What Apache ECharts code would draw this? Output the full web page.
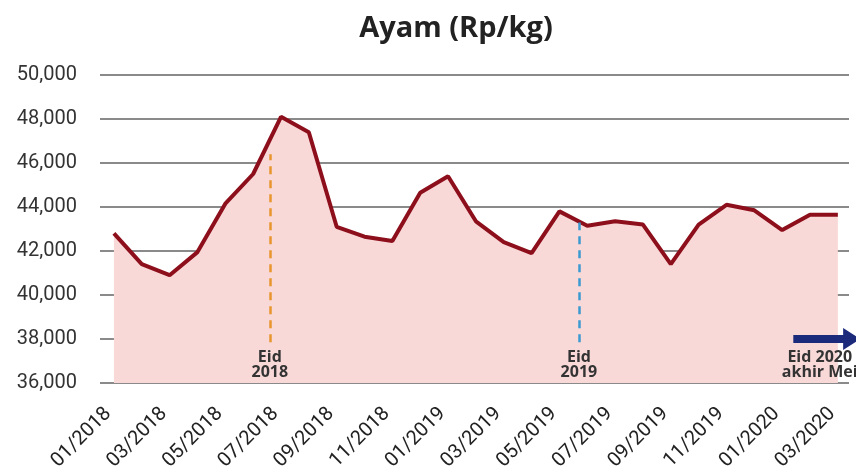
<!DOCTYPE html>
<html>
<head>
<meta charset="utf-8">
<script src="https://cdn.jsdelivr.net/npm/echarts@6/dist/echarts.min.js"></script>
<style>
  html, body { margin: 0; padding: 0; background: #fff; }
  #chart { width: 856px; height: 468px; }
</style>
</head>
<body>
<div id="chart"></div>
<script>
// ---- data ----
var months = ['01/2018','02/2018','03/2018','04/2018','05/2018','06/2018','07/2018','08/2018','09/2018','10/2018','11/2018','12/2018',
              '01/2019','02/2019','03/2019','04/2019','05/2019','06/2019','07/2019','08/2019','09/2019','10/2019','11/2019','12/2019',
              '01/2020','02/2020','03/2020'];
var prices = [42800, 41400, 40900, 41950, 44150, 45500, 48100, 47400, 43100, 42650, 42450, 44650,
              45400, 43350, 42400, 41900, 43800, 43150, 43350, 43200, 41400, 43200, 44100, 43850,
              42950, 43650, 43650];
var labelIdx = [0, 2, 4, 6, 8, 10, 12, 14, 16, 18, 20, 22, 24, 26];
var yTicks = [36000, 50000, 2000]; // min, max, interval
var eidMarks = [
  { name: 'Eid\n2018', x: 5.6, top: 46400, color: '#e8952e' },
  { name: 'Eid\n2019', x: 16.7, top: 43300, color: '#3b9ad0' }
];
var eid2020 = { name: 'Eid 2020\nakhir Mei', x: 25.35, arrowFrom: 24.4, arrowTo: 26.8, arrowY: 38000 };
var markerBottom = 37850;
var labelY = 36800;

var seriesData = prices.map(function (v, i) { return [i, v]; });

var chart = echarts.init(document.getElementById('chart'));
var labelFont = 'Roboto, "DejaVu Sans", sans-serif';

var markLines = eidMarks.map(function (m) {
  return [
    { coord: [m.x, markerBottom], lineStyle: { color: m.color, type: [8, 6], width: 2.5 } },
    { coord: [m.x, m.top] }
  ];
});
var markPoints = eidMarks.map(function (m) {
  return { coord: [m.x, labelY], value: m.name };
}).concat([{ coord: [eid2020.x, labelY], value: eid2020.name }]);

chart.setOption({
  animation: false,
  title: {
    text: 'Ayam (Rp/kg)',
    left: 451, top: 9, textAlign: 'center',
    textStyle: { fontFamily: '"Open Sans", sans-serif', fontWeight: 'bold', fontSize: 29, color: '#222' }
  },
  grid: { left: 100, right: 7, top: 75, bottom: 85, containLabel: false, outerBoundsMode: 'none' },
  xAxis: {
    type: 'value', min: -0.5, max: months.length - 1 + 0.4,
    axisLine: { show: false }, axisTick: { show: false }, splitLine: { show: false },
    axisLabel: {
      customValues: labelIdx,
      rotate: 45, fontSize: 20, color: '#222', margin: 22, padding: [0, 8, 0, 0], fontFamily: labelFont,
      formatter: function (v) { return months[Math.round(v)] || ''; }
    }
  },
  yAxis: {
    type: 'value', min: yTicks[0], max: yTicks[1], interval: yTicks[2],
    axisLine: { show: false }, axisTick: { show: false },
    splitLine: { lineStyle: { color: '#8a8a8a', width: 2 } },
    axisLabel: {
      fontSize: 20, color: '#333', margin: 23, fontFamily: labelFont,
      formatter: function (v) { return v.toLocaleString('en-US'); }
    }
  },
  series: [{
    type: 'line',
    data: seriesData,
    symbol: 'none',
    lineStyle: { color: '#8e0f1c', width: 4 },
    areaStyle: { color: '#f9d8d8', opacity: 1 },
    z: 3,
    markLine: {
      silent: true, symbol: 'none', animation: false,
      label: { show: false },
      data: markLines
    },
    markPoint: {
      silent: true, symbol: 'circle', symbolSize: 0, animation: false,
      label: {
        show: true, position: 'inside', color: '#333', fontWeight: 'bold', fontSize: 16,
        lineHeight: 15, fontFamily: '"Open Sans", sans-serif',
        formatter: function (p) { return p.value; }
      },
      data: markPoints
    }
  }]
});

// arrow annotation for Eid 2020 (positions computed from data coordinates)
var p0 = chart.convertToPixel({ gridIndex: 0 }, [eid2020.arrowFrom, eid2020.arrowY]);
var p1 = chart.convertToPixel({ gridIndex: 0 }, [eid2020.arrowTo, eid2020.arrowY]);
var headLen = 17, shaft = 4, head = 11;
chart.setOption({
  graphic: [{
    type: 'polygon', z: 10,
    shape: { points: [
      [p0[0], p0[1] - shaft], [p1[0] - headLen, p0[1] - shaft], [p1[0] - headLen, p0[1] - head],
      [p1[0], p0[1]], [p1[0] - headLen, p0[1] + head], [p1[0] - headLen, p0[1] + shaft], [p0[0], p0[1] + shaft]
    ] },
    style: { fill: '#1c2a7c' }
  }]
});
</script>
</body>
</html>
